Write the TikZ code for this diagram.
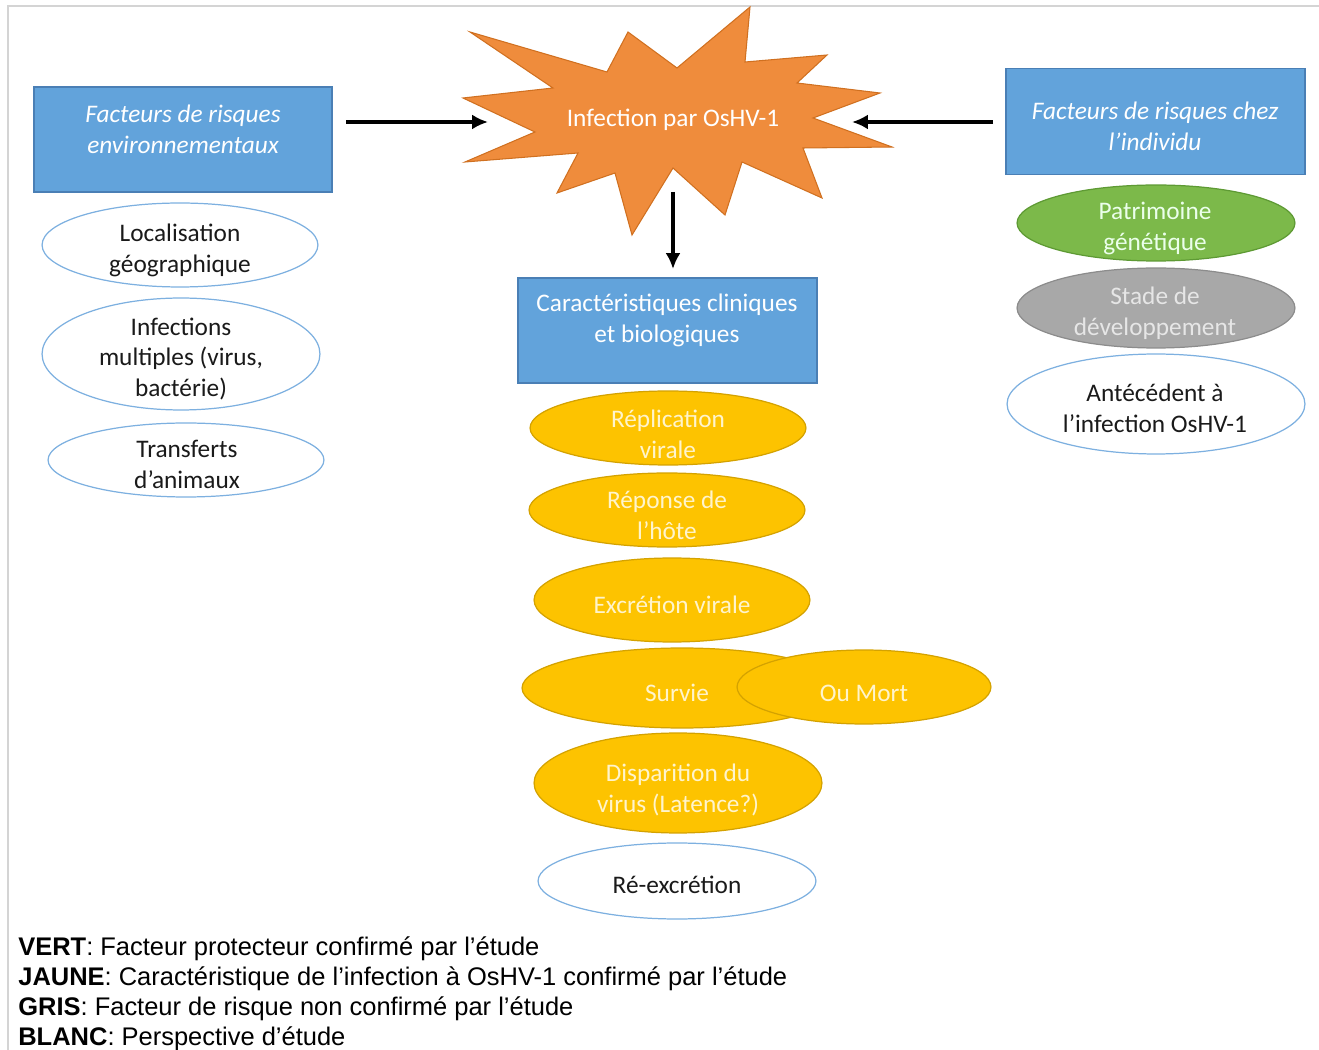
\documentclass[tikz,border=0pt]{standalone}
\usepackage{fontspec}
\setmainfont{Carlito}
\newfontfamily\arialfont{Liberation Sans}
\usetikzlibrary{shapes.geometric,arrows.meta}
\definecolor{boxblue}{HTML}{62A3DB}
\definecolor{boxedge}{HTML}{4A7FB5}
\definecolor{starfill}{HTML}{EF8C3C}
\definecolor{staredge}{HTML}{D07020}
\definecolor{yelfill}{HTML}{FDC300}
\definecolor{yeledge}{HTML}{D4A200}
\definecolor{yeltext}{HTML}{FFF4CC}
\definecolor{grnfill}{HTML}{7CB94A}
\definecolor{grnedge}{HTML}{5E9A34}
\definecolor{gryfill}{HTML}{A8A8A8}
\definecolor{gryedge}{HTML}{8C8C8C}
\definecolor{grytext}{HTML}{E6E6E6}
\definecolor{wedge}{HTML}{7DB0E0}
\definecolor{frame}{HTML}{D4D4D4}
\definecolor{ink}{HTML}{1A1A1A}
\tikzset{
  sz/.style 2 args={minimum width=#1*0.04cm, minimum height=#2*0.04cm},
  ellbase/.style={ellipse, inner sep=0pt, line width=0.7pt},
  ellw/.style={ellbase, draw=wedge, fill=white},
  elly/.style={ellbase, draw=yeledge, fill=yelfill},
  ellg/.style={ellbase, draw=grnedge, fill=grnfill},
  ellgr/.style={ellbase, draw=gryedge, fill=gryfill},
  bluebox/.style={rectangle, draw=boxedge, fill=boxblue, line width=0.8pt, inner sep=0pt},
  txt/.style={align=center, inner sep=0pt, yshift=-3*0.02cm, font=\fontsize{14.4}{17.6}\selectfont},
  btxt/.style={txt, text=ink},
  ytxt/.style={txt, text=yeltext},
  wtxt/.style={txt, text=white},
  legend/.style={anchor=west, inner sep=0pt, yshift=-2*0.02cm, text=black, font=\arialfont\fontsize{14.5}{17}\selectfont},
  arr/.style={line width=1.9pt, -{Latex[length=9pt,width=8.5pt]}}
}
\begin{document}
\begin{tikzpicture}[x=0.02cm, y=-0.02cm]
\useasboundingbox (0,0) rectangle (1319,1050);
% frame lines
\draw[frame, line width=0.8pt] (8,1050) -- (8,6) -- (1319,6);

% star
\draw[fill=starfill, draw=staredge, line width=0.6pt, line join=miter]
  (470,32) -- (607,72) -- (628,32) -- (677,68) -- (750,7) -- (745,62)
  -- (827,55) -- (797,83) -- (880,93) -- (813,118) -- (892,147) -- (803,148)
  -- (822,198) -- (742,162) -- (725,215) -- (673,168) -- (632,235) -- (615,173)
  -- (557,193) -- (578,153) -- (465,162) -- (535,132) -- (463,98) -- (553,88) -- cycle;
\node[wtxt] (inf) at (673,117) {Infection par OsHV-1};

% blue boxes
\node[bluebox, minimum width=298*0.02cm, minimum height=105*0.02cm] (envbox) at (183,139.5) {};
\node[wtxt, font=\fontsize{14.4}{17.6}\selectfont\itshape] (envtxt) at (183,126.5) {Facteurs de risques\\environnementaux};
\node[bluebox, minimum width=299*0.02cm, minimum height=106*0.02cm] (indbox) at (1155.5,121.5) {};
\node[wtxt, font=\fontsize{14.4}{17.6}\selectfont\itshape] (indtxt) at (1155,123.5) {Facteurs de risques chez\\l’individu};
\node[bluebox, minimum width=299*0.02cm, minimum height=105*0.02cm] (clibox) at (667.5,330.5) {};
\node[wtxt] (clitxt) at (667,317) {Caractéristiques cliniques\\et biologiques};

% arrows
\coordinate (aL1) at (346,122);
\coordinate (aL2) at (488,122);
\coordinate (aR1) at (993,122);
\coordinate (aR2) at (852,122);
\coordinate (aD1) at (673,192);
\coordinate (aD2) at (673,269);
\draw[arr] (aL1) -- (aL2);
\draw[arr] (aR1) -- (aR2);
\draw[arr] (aD1) -- (aD2);

% left ellipses
\node[ellw, sz={138}{42}] (loc) at (180,245) {};
\node[btxt] (loct) at (180,247) {Localisation\\géographique};
\node[ellw, sz={139}{56}] (multi) at (181,354) {};
\node[btxt] (multit) at (181,356) {Infections\\multiples (virus,\\bactérie)};
\node[ellw, sz={138}{37}] (transf) at (186,460) {};
\node[btxt] (transft) at (187,461) {Transferts\\d’animaux};

% right ellipses
\node[ellg, sz={139}{38}] (patr) at (1156,223) {};
\node[wtxt, text=white!92!green] (patrt) at (1155,225.5) {Patrimoine\\génétique};
\node[ellgr, sz={139}{40}] (stade) at (1156,308) {};
\node[txt, text=grytext] (stadet) at (1155,310) {Stade de\\développement};
\node[ellw, sz={149}{50}] (antec) at (1156,404) {};
\node[btxt] (antect) at (1155,405.5) {Antécédent à\\l’infection OsHV-1};

% central column
\node[elly, sz={138}{37}] (repl) at (668,428) {};
\node[ytxt] (replt) at (668,431) {Réplication\\virale};
\node[elly, sz={138}{37}] (repo) at (667,510) {};
\node[ytxt] (repot) at (667,512) {Réponse de\\l’hôte};
\node[elly, sz={138}{42}] (excr) at (672,600) {};
\node[ytxt] (excrt) at (672,602) {Excrétion virale};
\node[elly, sz={160}{40}] (surv) at (682,688) {};
\node[ytxt] (survt) at (677,690) {Survie};
\node[elly, sz={127}{37}] (mort) at (864,687) {};
\node[ytxt] (mortt) at (864,690) {Ou Mort};
\node[elly, sz={144}{50}] (disp) at (678,783) {};
\node[ytxt] (dispt) at (678,787) {Disparition du\\virus (Latence?)};
\node[ellw, sz={139}{38}] (reex) at (677,881) {};
\node[btxt] (reext) at (677,882) {Ré-excrétion};

% legend
\node[legend] (lg1) at (18,947) {\textbf{VERT}: Facteur protecteur confirmé par l’étude};
\node[legend] (lg2) at (18,977) {\textbf{JAUNE}: Caractéristique de l’infection à OsHV-1 confirmé par l’étude};
\node[legend] (lg3) at (18,1007) {\textbf{GRIS}: Facteur de risque non confirmé par l’étude};
\node[legend] (lg4) at (18,1037) {\textbf{BLANC}: Perspective d’étude};
\end{tikzpicture}
\end{document}
